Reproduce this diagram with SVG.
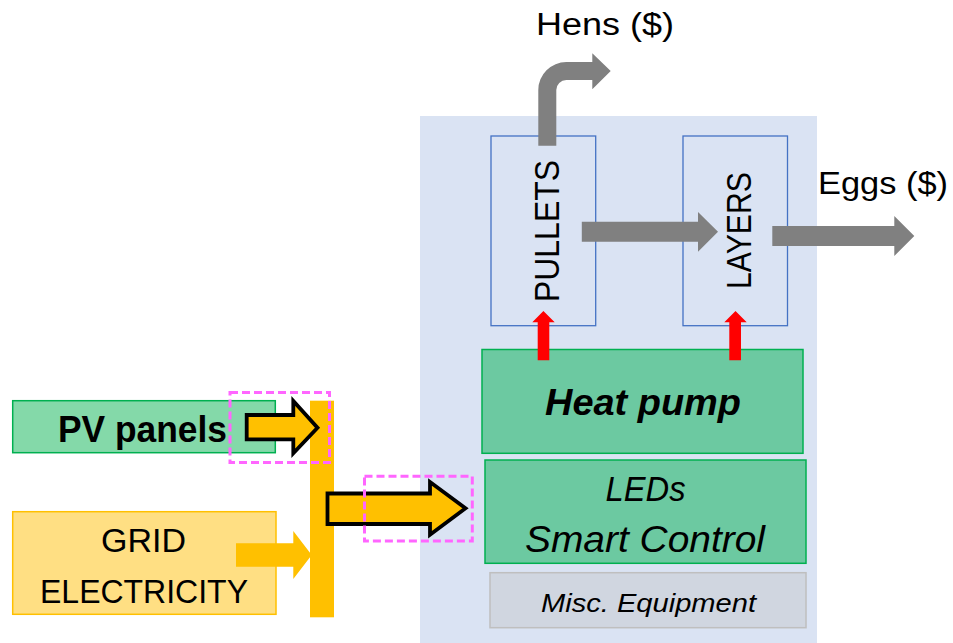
<svg xmlns="http://www.w3.org/2000/svg" width="953" height="643" viewBox="0 0 953 643">
<style>
text{font-family:"Liberation Sans",Arial,sans-serif;fill:#000}
.stage{fill:none;stroke:#4472C4;stroke-width:1.3}
.green{stroke:#00B050;stroke-width:1.5}
.gray{fill:#808080}
.red{fill:#FF0000}
.orange{fill:#FFC000}
.outlined{fill:#FFC000;stroke:#000;stroke-width:3.8;stroke-linejoin:miter}
.dash{fill:none;stroke:#FF66FF;stroke-width:3;stroke-dasharray:8 4}
</style>
<rect id="farm" x="420" y="116" width="397" height="527" fill="#DAE3F3"/>
<g id="pullets">
<rect class="stage" x="491" y="136" width="104.7" height="189.7"/>
<text transform="translate(559,231) rotate(-90)" text-anchor="middle" font-size="35" textLength="142" lengthAdjust="spacingAndGlyphs">PULLETS</text>
</g>
<g id="layers">
<rect class="stage" x="683" y="136" width="104.5" height="189.7"/>
<text transform="translate(751,230.5) rotate(-90)" text-anchor="middle" font-size="35" textLength="117" lengthAdjust="spacingAndGlyphs">LAYERS</text>
</g>
<g id="heat-pump">
<rect class="green" x="482" y="349.5" width="321" height="103.8" fill="#6CC9A1"/>
<text x="545" y="415" font-size="36" font-weight="bold" font-style="italic" textLength="196" lengthAdjust="spacingAndGlyphs">Heat pump</text>
</g>
<g id="leds">
<rect class="green" x="485" y="460" width="321" height="103.3" fill="#6CC9A1"/>
<text x="605.6" y="500.7" font-size="35" font-style="italic" textLength="80" lengthAdjust="spacingAndGlyphs">LEDs</text>
<text x="525" y="551.7" font-size="36" font-style="italic" textLength="240" lengthAdjust="spacingAndGlyphs">Smart Control</text>
</g>
<g id="misc">
<rect x="490" y="572.7" width="316" height="55" fill="#D0D6E0" stroke="#BFBFBF" stroke-width="1.5"/>
<text x="541" y="611.7" font-size="26" font-style="italic" textLength="215" lengthAdjust="spacingAndGlyphs">Misc. Equipment</text>
</g>
<g id="pv-panels">
<rect x="12.7" y="400.7" width="262.6" height="52" fill="#84D9A9" stroke="#00B050" stroke-width="1.5"/>
<text x="58" y="441.7" font-size="36" font-weight="bold" textLength="169" lengthAdjust="spacingAndGlyphs">PV panels</text>
</g>
<g id="grid">
<rect x="12.7" y="511.7" width="263.3" height="102.6" fill="#FFDF83" stroke="#FFC000" stroke-width="1.5"/>
<text x="101" y="551.7" font-size="33" textLength="85" lengthAdjust="spacingAndGlyphs">GRID</text>
<text x="40" y="602.7" font-size="33" textLength="208" lengthAdjust="spacingAndGlyphs">ELECTRICITY</text>
</g>
<g id="bus">
<rect class="orange" x="310" y="400.7" width="24" height="216.6"/>
</g>
<g id="hens-label"><text x="536" y="35" font-size="31" textLength="138" lengthAdjust="spacingAndGlyphs">Hens ($)</text></g>
<g id="eggs-label"><text x="818" y="194.3" font-size="32" textLength="130" lengthAdjust="spacingAndGlyphs">Eggs ($)</text></g>
<g id="connectors">
<path class="gray" d="M538.3,145.7 V90 A28,28 0 0 1 566.3,62 H592.3 V53.3 L610.7,71 L592.3,89.3 V80 H566.3 A10,10 0 0 0 556.3,90 V145.7 Z"/>
<path class="gray" d="M581.8,221.7 H698 V212 L718,231.7 L698,251.7 V241.7 H581.8 Z"/>
<path class="gray" d="M772.3,226 H894.3 V216 L914.3,236 L894.3,256 V246 H772.3 Z"/>
<path class="red" d="M537.7,360.3 V322.3 H532.3 L543.4,311 L554.7,322.3 H549.3 V360.3 Z"/>
<path class="red" d="M729.3,360.3 V322.3 H724.3 L735.5,311 L746.7,322.3 H741 V360.3 Z"/>
<path class="outlined" d="M246.7,415 H293.3 V401 L317.5,427.7 L293.3,453.3 V439.3 H246.7 Z"/>
<path class="orange" d="M236,543.3 H293.3 V531 L311.7,555 L293.3,579 V566.7 H236 Z"/>
<path class="outlined" d="M327.5,493.5 H430 V482 L465.5,508.3 L430,534.8 V524 H327.5 Z"/>
</g>
<rect class="dash" x="230" y="392.5" width="99.5" height="70"/>
<rect class="dash" x="364.5" y="476.2" width="107.8" height="64.8"/>
</svg>
